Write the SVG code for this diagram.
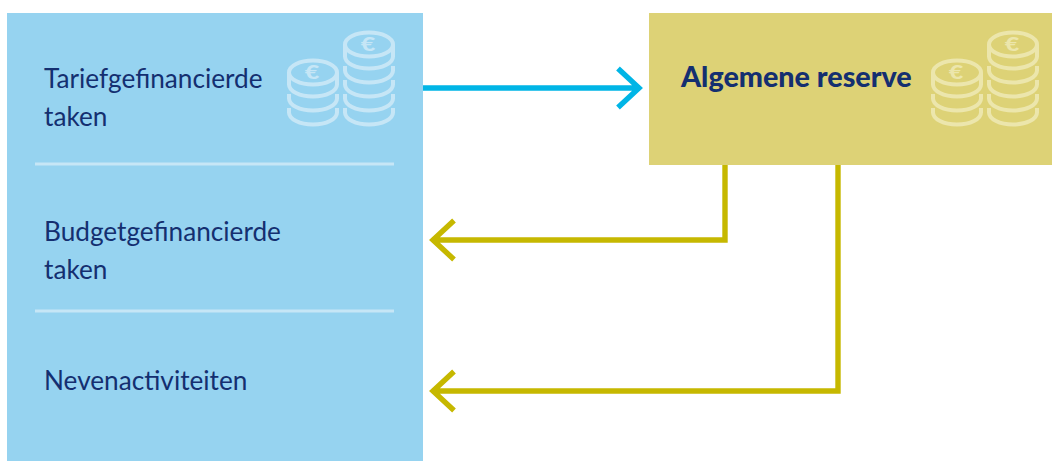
<svg xmlns="http://www.w3.org/2000/svg" width="1052" height="461" viewBox="0 0 1052 461">
<style>
text{font-family:"Lato","Noto Sans",sans-serif;fill:#142f70;font-size:26.2px}
.b{font-weight:900;font-size:28.700px}
.div{stroke:#c6e6f6;stroke-width:3;fill:none}
.coin{fill:none;stroke-width:4;stroke-linecap:butt}
.eu{font-size:18px;font-weight:900;text-anchor:middle}
.conn{fill:none;stroke-width:5.400;stroke-linejoin:miter}
</style>
<defs>
<g id="coins">
<ellipse cx="26" cy="32.500" rx="24" ry="12"/>
<path d="M2 32.500V44.500A24 12 0 0 0 50 44.500V32.500"/>
<path d="M2 54V58.500A24 12 0 0 0 50 58.500V54"/>
<path d="M2 68V72.500A24 12 0 0 0 50 72.500V68"/>
<ellipse cx="82" cy="4.500" rx="24" ry="12"/>
<path d="M58 4.500V16.500A24 12 0 0 0 106 16.500V4.500"/>
<path d="M58 26V30.500A24 12 0 0 0 106 30.500V26"/>
<path d="M58 40V44.500A24 12 0 0 0 106 44.500V40"/>
<path d="M58 54V58.500A24 12 0 0 0 106 58.500V54"/>
<path d="M58 68V72.500A24 12 0 0 0 106 72.500V68"/>
</g>
</defs>
<rect width="1052" height="461" fill="#fff"/>
<g id="left-panel">
<rect x="7" y="13" width="416" height="448" fill="#96d3f0"/>
<line class="div" x1="35" y1="164" x2="394" y2="164"/>
<line class="div" x1="35" y1="311" x2="394" y2="311"/>
</g>
<g id="node-tarief">
<text x="44" y="88">Tariefgefinancierde</text>
<text x="44" y="126">taken</text>
<use href="#coins" x="287" y="40" class="coin" stroke="#c6e6f6"/>
<text class="eu" transform="translate(312 79) scale(1.4 1)" style="fill:#c6e6f6">€</text>
<text class="eu" transform="translate(368 51) scale(1.4 1)" style="fill:#c6e6f6">€</text>
</g>
<g id="node-budget">
<text x="44" y="241">Budgetgefinancierde</text>
<text x="44" y="279">taken</text>
</g>
<g id="node-neven">
<text x="44" y="390">Nevenactiviteiten</text>
</g>
<g id="node-reserve">
<rect x="649" y="13" width="403" height="152" fill="#ddd276"/>
<text class="b" x="681" y="87">Algemene reserve</text>
<use href="#coins" x="931" y="40" class="coin" stroke="#ece6ac"/>
<text class="eu" transform="translate(956 79) scale(1.4 1)" style="fill:#ece6ac">€</text>
<text class="eu" transform="translate(1012 51) scale(1.4 1)" style="fill:#ece6ac">€</text>
</g>
<g id="connectors">
<path class="conn" stroke="#00b5e6" d="M423 88H639M618 68.500L639 88 618 107.500"/>
<path class="conn" stroke="#c6b800" d="M725 165V240H433M454 220.500L433 240 454 259.500"/>
<path class="conn" stroke="#c6b800" d="M838 165V391H433M454 371.500L433 391 454 410.500"/>
</g>
</svg>
